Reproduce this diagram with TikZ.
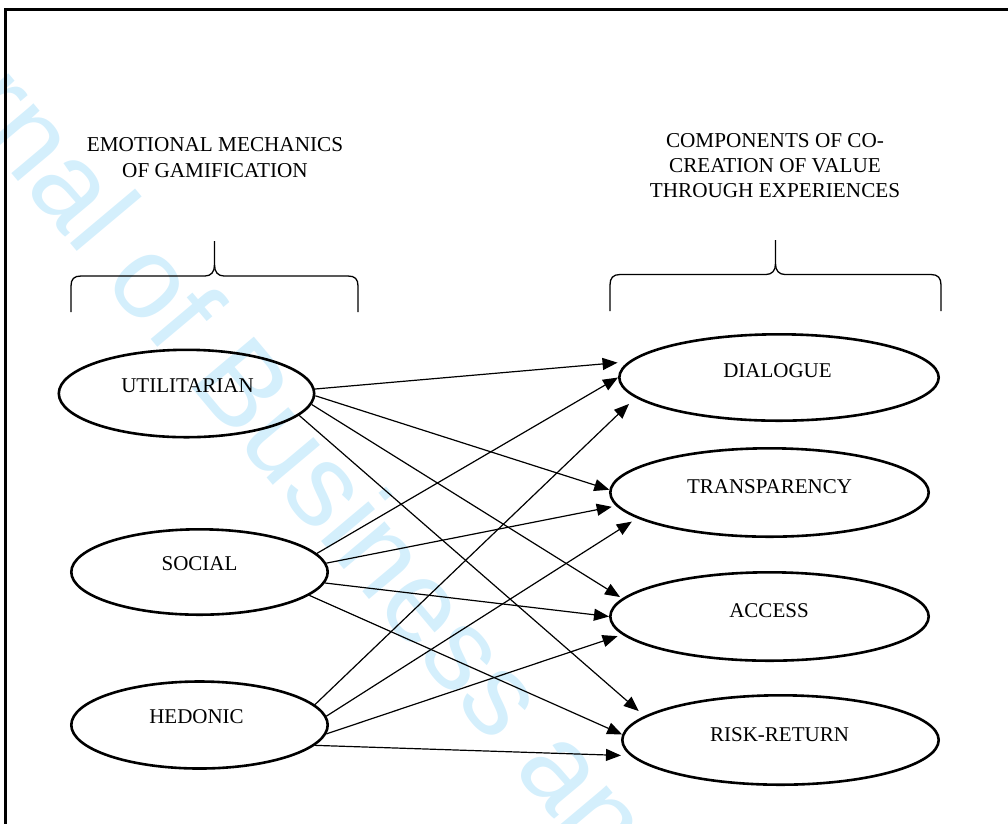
\documentclass[tikz,border=0pt]{standalone}
\usepackage{fontspec}
\setmainfont{Liberation Serif}
\newfontfamily\wmfont{Liberation Sans}
\usetikzlibrary{shapes.geometric,arrows.meta}
\definecolor{wmblue}{RGB}{212,239,252}
\begin{document}
\begin{tikzpicture}[x=1pt,y=-1pt,
  oval/.style={draw, ellipse, line width=2.6pt, inner sep=0pt},
  lbl/.style={font=\fontsize{21}{25}\selectfont, inner sep=0pt},
  hdr/.style={align=center, inner sep=0pt, anchor=north},
  link/.style={line width=1.2pt, -{Triangle[length=15pt,width=12pt]}},
  bracepath/.style={line width=1.3pt},
  wmark/.style={font=\wmfont\fontsize{117}{120}\selectfont, text=wmblue, anchor=base west, rotate=-50, inner sep=0pt},
]
\clip (0,0) rectangle (1008,823);
% watermark
\node[wmark] (wm) at (-164.7,-37.1) {Journal of Business and Industrial Marketing};
% frame
\draw[line width=3pt] (5,9.5) rectangle (1040,860);
% headers
\node[hdr, font=\fontsize{21.2}{26.5}\selectfont] (hleft) at (215,137) {EMOTIONAL MECHANICS\\OF GAMIFICATION};
\node[hdr, font=\fontsize{21.2}{25}\selectfont] (hright) at (775,133.5) {COMPONENTS OF CO-\\CREATION OF VALUE\\THROUGH EXPERIENCES};
% braces
\draw[bracepath] (71,312) -- (71,286) .. controls (71,279) and (74,276) .. (81,276) -- (205,276) .. controls (211,276) and (214.5,272) .. (214.5,265) -- (214.5,241);
\draw[bracepath] (358,312) -- (358,286) .. controls (358,279) and (355,276) .. (348,276) -- (224,276) .. controls (218,276) and (214.5,272) .. (214.5,265);
\draw[bracepath] (610,311) -- (610,285) .. controls (610,278) and (613,274.5) .. (620,274.5) -- (766,274.5) .. controls (772,274.5) and (775.5,270.5) .. (775.5,264) -- (775.5,240);
\draw[bracepath] (941,311) -- (941,285) .. controls (941,278) and (938,274.5) .. (931,274.5) -- (785,274.5) .. controls (779,274.5) and (775.5,270.5) .. (775.5,264);
% left ellipses
\node[oval, minimum width=255.4pt, minimum height=87.4pt, label={[lbl, xshift=1pt, yshift=8pt]center:UTILITARIAN}] (util) at (186.5,393.5) {};
\node[oval, minimum width=256.4pt, minimum height=85.4pt, label={[lbl, xshift=0pt, yshift=8pt]center:SOCIAL}] (social) at (199.5,572) {};
\node[oval, minimum width=256.4pt, minimum height=87pt, label={[lbl, xshift=-3pt, yshift=8pt]center:HEDONIC}] (hedonic) at (199.5,725) {};
% right ellipses
\node[oval, minimum width=319.4pt, minimum height=86.4pt, label={[lbl, xshift=-1.5pt, yshift=6.5pt]center:DIALOGUE}] (dial) at (779,377.5) {};
\node[oval, minimum width=318.4pt, minimum height=88.4pt, label={[lbl, xshift=0pt, yshift=5.5pt]center:TRANSPARENCY}] (trans) at (769.5,492.5) {};
\node[oval, minimum width=318.4pt, minimum height=88.4pt, label={[lbl, xshift=-0.5pt, yshift=5.5pt]center:ACCESS}] (access) at (769.5,616.5) {};
\node[oval, minimum width=316.4pt, minimum height=89.4pt, label={[lbl, xshift=-1pt, yshift=5pt]center:RISK-RETURN}] (rr) at (780.5,740) {};
% connectors
\draw[link, shorten >=11pt] (util.2) -- (dial.174.2);
\draw[link] (util.-1.5) -- (trans.179.1);
\draw[link, shorten >=2.6pt] (util.-5.6) -- (access.173);
\draw[link, shorten >=7.5pt] (util.-11.7) -- (rr.170.5);
\draw[link] (social.9.7) -- (dial.180);
\draw[link, shorten >=4.5pt] (social.4) -- (trans.185.1);
\draw[link] (social.-5.5) -- (access.180);
\draw[link] (social.-12.9) -- (rr.178);
\draw[link, shorten >=9pt] (hedonic.10.3) -- (dial.188.1);
\draw[link, shorten >=6.3pt] (hedonic.4) -- (trans.191.8);
\draw[link, shorten >=4.9pt] (hedonic.-4) -- (access.187.4);
\draw[link, shorten >=9.7pt] (hedonic.-10.7) -- (rr.186.7);
\end{tikzpicture}
\end{document}
